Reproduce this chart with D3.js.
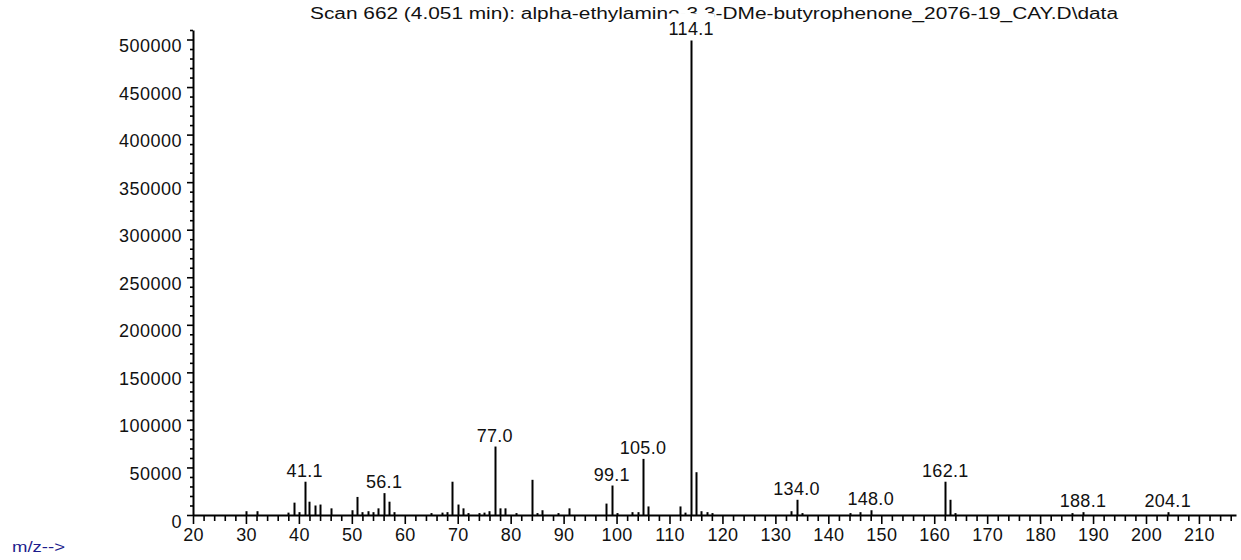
<!DOCTYPE html>
<html>
<head>
<meta charset="utf-8">
<script src="https://cdn.jsdelivr.net/npm/d3@7"></script>
<style>
  html, body { margin: 0; padding: 0; background: #fff; }
  svg { display: block; }
  text { font-family: "Liberation Sans", Arial, sans-serif; fill: #111; }
</style>
</head>
<body>
<div id="chart"></div>
<script>
const titleText = "Scan 662 (4.051 min): alpha-ethylamino-3,3-DMe-butyrophenone_2076-19_CAY.D\\data";
const xLabelText = "m/z-->";

const mzValues = [30, 32, 38, 39, 40, 41.1, 42, 43, 44, 46, 50, 51, 52, 53, 54, 55, 56.1, 57, 58,
  65, 67, 68, 69, 70, 71, 72, 74, 75, 76, 77.0, 78, 79, 81, 84, 85, 86, 89, 91,
  98, 99.1, 100, 103, 104, 105.0, 106, 112, 113, 114.1, 115, 116, 117, 118,
  133, 134.0, 135, 144, 146, 148.0, 162.1, 163, 164, 186, 188.1, 204.1];
const abundance = [4000, 4000, 2500, 13000, 3000, 35000, 14000, 10000, 11000, 7000, 5000, 19000, 3000, 4000, 3000, 7000, 23000, 14000, 3000,
  2000, 2500, 3000, 35000, 11000, 7000, 2000, 2000, 2500, 4000, 72000, 7000, 7000, 2000, 37000, 2000, 5000, 2000, 7000,
  12000, 31000, 2000, 3000, 3000, 59000, 9000, 9000, 2500, 499000, 45000, 4000, 3000, 2000,
  4000, 16000, 2000, 2000, 3000, 5000, 35000, 16000, 2000, 2000, 3000, 3000];
const labelledPeaks = ["41.1", "56.1", "77.0", "99.1", "105.0", "114.1", "134.0", "148.0", "162.1", "188.1", "204.1"];

const xMajorTicks = [20, 30, 40, 50, 60, 70, 80, 90, 100, 110, 120, 130, 140, 150, 160, 170, 180, 190, 200, 210];
const yMajorTicks = [0, 50000, 100000, 150000, 200000, 250000, 300000, 350000, 400000, 450000, 500000];

const W = 1241, H = 560;
const FS = 18;
const svg = d3.select("#chart").append("svg").attr("width", W).attr("height", H);

const x = d3.scaleLinear().domain([20, 217]).range([193, 1236]);
const y = d3.scaleLinear().domain([0, 510000]).range([515, 30]);

// title
svg.append("text")
  .attr("x", 310).attr("y", 19)
  .attr("font-size", 16)
  .attr("textLength", 808).attr("lengthAdjust", "spacingAndGlyphs")
  .text(titleText);

// peaks
svg.append("g").selectAll("line")
  .data(mzValues.map((m, i) => ({ m, a: abundance[i] })))
  .join("line")
  .attr("x1", d => Math.round(x(d.m)) + 0.5).attr("x2", d => Math.round(x(d.m)) + 0.5)
  .attr("y1", y(0)).attr("y2", d => y(d.a))
  .attr("stroke", "#000").attr("stroke-width", 2);

// x axis
const xMinor = d3.range(20, 217, 2).filter(v => v % 10 !== 0);
const xAxisMajor = d3.axisBottom(x).tickValues(xMajorTicks).tickSize(9).tickSizeOuter(0).tickPadding(3).tickFormat(d3.format("d"));
const gx = svg.append("g").attr("transform", `translate(0,${y(0)})`).call(xAxisMajor);
gx.select(".domain").attr("stroke", "#000").attr("stroke-width", 2);
gx.selectAll(".tick line").attr("stroke", "#000").attr("stroke-width", 1.6);
gx.selectAll(".tick text").attr("font-size", FS).attr("letter-spacing", "0.3px")
  .attr("font-family", "'Liberation Sans', Arial, sans-serif").attr("fill", "#111")
  .attr("y", 0).attr("dy", "26px");
const gxm = svg.append("g").attr("transform", `translate(0,${y(0)})`)
  .call(d3.axisBottom(x).tickValues(xMinor).tickSize(6).tickFormat(""));
gxm.select(".domain").remove();
gxm.selectAll(".tick line").attr("stroke", "#000").attr("stroke-width", 1.6);

// y axis
const yMinor = d3.range(0, 510001, 10000).filter(v => v % 50000 !== 0);
const gy = svg.append("g").attr("transform", `translate(${x(20)},0)`)
  .call(d3.axisLeft(y).tickValues(yMajorTicks).tickSize(6).tickSizeOuter(0).tickPadding(5).tickFormat(d3.format("d")));
gy.select(".domain").attr("stroke", "#000").attr("stroke-width", 2);
gy.selectAll(".tick line").attr("stroke", "#000").attr("stroke-width", 1.6);
gy.selectAll(".tick text").attr("font-size", FS).attr("letter-spacing", "0.5px")
  .attr("font-family", "'Liberation Sans', Arial, sans-serif").attr("fill", "#111")
  .attr("dy", "12px").attr("y", 0);
const gym = svg.append("g").attr("transform", `translate(${x(20)},0)`)
  .call(d3.axisLeft(y).tickValues(yMinor).tickSize(3).tickFormat(""));
gym.select(".domain").remove();
gym.selectAll(".tick line").attr("stroke", "#000").attr("stroke-width", 1.6);

// peak labels
labelledPeaks.forEach(lbl => {
  const v = +lbl;
  const i = mzValues.findIndex(m => Math.abs(m - v) < 0.01);
  const px = x(mzValues[i]);
  const py = y(abundance[i]) - 5;
  const t = svg.append("text")
    .attr("x", px).attr("y", py)
    .attr("text-anchor", "middle")
    .attr("font-size", FS).attr("letter-spacing", "0.3px")
    .text(lbl);
  if (lbl === "114.1") {
    const bb = t.node().getBBox();
    svg.insert("rect", () => t.node())
      .attr("x", bb.x - 1).attr("y", py - 22)
      .attr("width", bb.width + 2).attr("height", 25)
      .attr("fill", "#fff");
  }
});

// m/z label
svg.append("text")
  .attr("x", 12).attr("y", 552)
  .attr("font-size", 15)
  .attr("textLength", 53).attr("lengthAdjust", "spacingAndGlyphs")
  .style("fill", "#1c1c8c")
  .text(xLabelText);
</script>
</body>
</html>
